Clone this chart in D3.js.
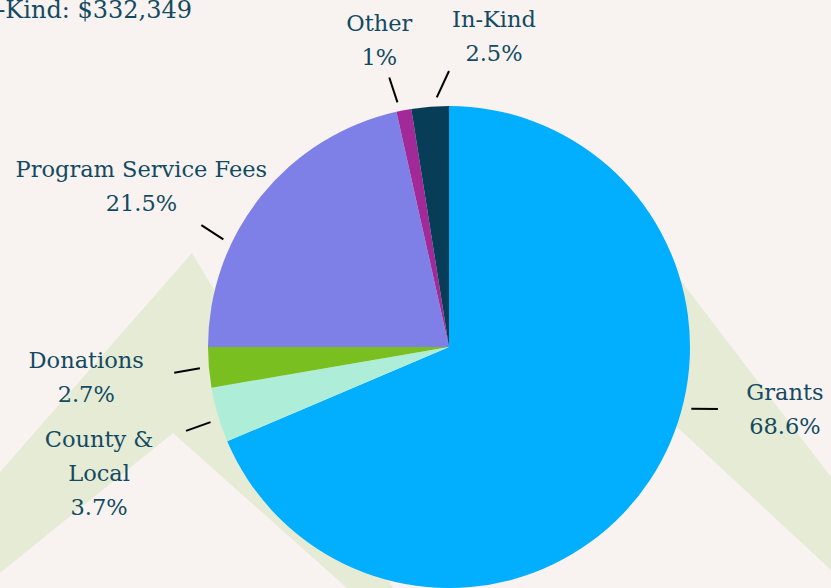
<!DOCTYPE html>
<html>
<head>
<meta charset="utf-8">
<script src="https://cdn.jsdelivr.net/npm/d3@7"></script>
<style>
  html, body { margin: 0; padding: 0; background: #f8f3f0; }
  svg { display: block; }
</style>
</head>
<body>
<div id="chart"></div>
<script>
// Revenue sources, share of total (%)
const sources = ["Grants", "County & Local", "Donations", "Program Service Fees", "Other", "In-Kind"];
const shares = [68.6, 3.7, 2.7, 21.5, 1, 2.5];
const sliceColors = ["#02aefe", "#aeeed9", "#79bf20", "#7f80e7", "#a12a98", "#083d58"];
const labelLines = [["Grants"], ["County &", "Local"], ["Donations"], ["Program Service Fees"], ["Other"], ["In-Kind"]];
const caption = "In-Kind: $332,349";

/* Set the dimensions of the graph */
const width = 831, height = 588;
const cx = 449, cy = 347, radius = 241;
const textColor = "#134a61";
const font = "DejaVu Serif, serif";
const fontSize = 22.5, lineGap = 34;

// label placement: leader line angle shifts (deg) for both ends, label centre offset from the line end
const labelLayout = [
    {s0: -19.2, s1: -20.5, dx: 67, dy: -9},
    {s0: -1.1, s1: -1.3, dx: -87, dy: 16},
    {s0: 0, s1: -0.5, dx: -88, dy: -5},
    {s0: -13.2, s1: -12.5, dx: -60, dy: -48},
    {s0: -1.1, s1: -1.7, dx: -10, dy: -47},
    {s0: 1.7, s1: 4.5, dx: 45, dy: -44}
];

const data = sources.map((s, i) => ({name: s, share: shares[i], color: sliceColors[i], lines: labelLines[i], layout: labelLayout[i]}));

const svg = d3.select("#chart")
    .append("svg")
    .attr("width", width)
    .attr("height", height)
    .attr("viewBox", [0, 0, width, height]);

svg.append("rect")
    .attr("width", width)
    .attr("height", height)
    .attr("fill", "#f8f3f0");

// background mountains
const bg = svg.append("g").attr("fill", "#e5ebd5");
bg.append("polygon")
    .attr("points", [[192, 253], [393, 588], [347, 588], [173, 433], [0, 573], [0, 472]].join(" "));
bg.append("polygon")
    .attr("points", [[600, 175], [831, 477], [831, 570], [540, 300], [500, 330]].join(" "));

/* Pie slices, clockwise from 12 o'clock */
const pie = d3.pie()
    .sort(null)
    .value(d => d.share);
const arc = d3.arc()
    .innerRadius(0)
    .outerRadius(radius);

const arcs = pie(data);

const g = svg.append("g")
    .attr("transform", `translate(${cx},${cy})`);

g.selectAll("path")
    .data(arcs)
    .join("path")
    .attr("d", arc)
    .attr("fill", d => d.data.color);

// leader lines
const toRad = Math.PI / 180;
arcs.forEach(d => {
    const mid = (d.startAngle + d.endAngle) / 2;
    d.p0 = d3.pointRadial(mid + d.data.layout.s0 * toRad, radius + 9);
    d.p1 = d3.pointRadial(mid + d.data.layout.s1 * toRad, radius + 35);
});

g.selectAll("line.leader")
    .data(arcs)
    .join("line")
    .attr("class", "leader")
    .attr("x1", d => d.p0[0])
    .attr("y1", d => d.p0[1])
    .attr("x2", d => d.p1[0])
    .attr("y2", d => d.p1[1])
    .attr("stroke", "#000")
    .attr("stroke-width", 2);

// labels: name lines + percentage, centred
const labels = g.selectAll("text.label")
    .data(arcs)
    .join("text")
    .attr("class", "label")
    .attr("text-anchor", "middle")
    .attr("x", d => d.p1[0] + d.data.layout.dx)
    .attr("y", d => d.p1[1] + d.data.layout.dy)
    .style("font-family", font)
    .style("font-size", fontSize + "px")
    .attr("fill", textColor);

labels.each(function(d) {
    const t = d3.select(this);
    const x = d.p1[0] + d.data.layout.dx;
    d.data.lines.concat([d.data.share + "%"]).forEach((s, i) => {
        t.append("tspan")
            .attr("x", x)
            .attr("dy", i === 0 ? 0 : lineGap)
            .text(s);
    });
});

// clipped caption in the corner
svg.append("text")
    .attr("x", 192)
    .attr("y", 18)
    .attr("text-anchor", "end")
    .style("font-family", font)
    .style("font-size", "24px")
    .attr("fill", textColor)
    .text(caption);
</script>
</body>
</html>
